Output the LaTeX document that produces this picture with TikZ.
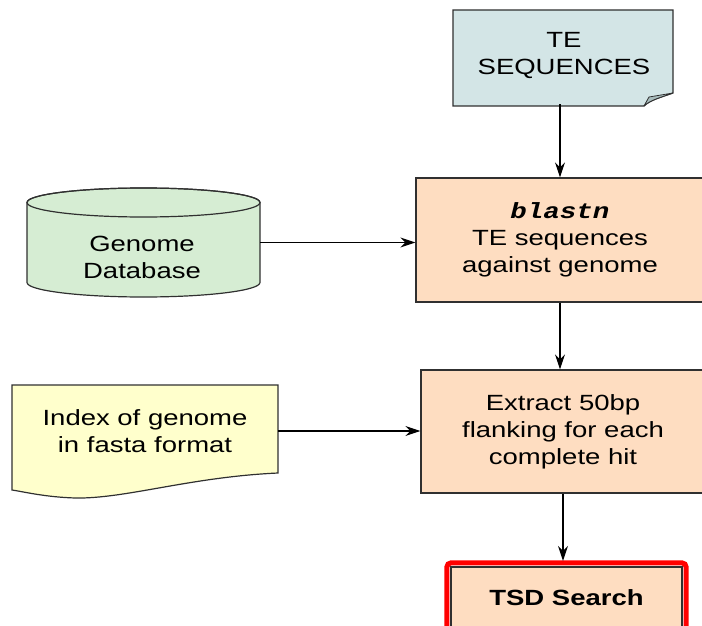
\documentclass[tikz,border=0pt]{standalone}
\usepackage{fontspec}
\setmainfont{Liberation Sans}[FakeStretch=1.25]
\newfontfamily\blastfont{Liberation Mono}[FakeStretch=1.25]
\usepackage{xcolor}
\usetikzlibrary{arrows.meta}

\definecolor{tefill}{HTML}{D3E5E6}
\definecolor{flapfill}{HTML}{A8BCBC}
\definecolor{procfill}{HTML}{FEDDC1}
\definecolor{dbfill}{HTML}{D6EDD3}
\definecolor{docfill}{HTML}{FFFFCC}
\definecolor{edgegray}{HTML}{303030}
\definecolor{tsdred}{HTML}{FF0000}

\tikzset{
  txt/.style={align=center, inner sep=0pt, font=\fontsize{22pt}{27pt}\selectfont},
  procbox/.style={txt, draw=edgegray, line width=1.2pt, fill=procfill},
  outline/.style={draw=edgegray, line width=1.2pt},
  flow/.style={-{Stealth[length=15pt,width=10pt]}, line width=1.2pt, black},
}

\begin{document}
\begin{tikzpicture}[x=1pt,y=-1pt]
\useasboundingbox (0,0) rectangle (702,626);

% TE sequences (document with folded corner)
\path[outline, fill=tefill] (453,10) -- (673,10) -- (673,93)
  .. controls (662,97) and (650,100) .. (644,106) -- (453,106) -- cycle;
\path[outline, fill=flapfill, line width=0.8pt] (644,106) -- (649,97) -- (673,93)
  .. controls (662,97) and (650,100) .. (644,106);
\node[txt, minimum width=220pt, minimum height=96pt] (te) at (564,56) {TE\\SEQUENCES};

% genome database cylinder
\path[outline, fill=dbfill] (27,202.5) -- (27,282.5)
  arc[start angle=180, end angle=360, x radius=116.5pt, y radius=14.5pt]
  -- (260,202.5)
  arc[start angle=0, end angle=180, x radius=116.5pt, y radius=14.5pt] -- cycle;
\draw[outline] (143.5,202.5) ellipse[x radius=116.5pt, y radius=14.5pt];
\node[minimum width=233pt, minimum height=109pt] (gdb) at (143.5,242.5) {};
\node[txt] (gdbtext) at (142,257) {Genome\\Database};

% index document
\path[outline, fill=docfill] (12,385) -- (278,385) -- (278,473)
  .. controls (190,477) and (125,499) .. (75,498)
  .. controls (45,497) and (25,492) .. (12,490) -- cycle;
\node[txt, minimum width=266pt, minimum height=92pt] (idx) at (145,431) {Index of genome\\in fasta format};

% process boxes
\node[procbox, minimum width=288pt, minimum height=124pt] (blastn) at (560,240)
  {{\blastfont\bfseries\itshape blastn}\\TE sequences\\against genome};
\node[procbox, minimum width=284pt, minimum height=123pt] (extract) at (563,431.5)
  {Extract 50bp\\flanking for each\\complete hit};
\node[procbox, minimum width=231pt, minimum height=62pt, font=\fontsize{22pt}{27pt}\selectfont\bfseries] (tsd) at (566.5,598) {TSD Search};
\draw[tsdred, line width=5pt, rounded corners=4pt]
  ([shift={(-3.5,-3.5)}]tsd.north west) rectangle ([shift={(3.5,3.5)}]tsd.south east);

% connectors
\draw[flow] (blastn.north |- te.south) -- (blastn.north);
\draw[flow] (gdb.east) -- (gdb.east -| blastn.west);
\draw[flow] (blastn.south) -- (blastn.south |- extract.north);
\draw[flow] (idx.east) -- (idx.east -| extract.west);
\draw[flow, shorten >=5.5pt] (extract.south) -- (extract.south |- tsd.north);
\end{tikzpicture}
\end{document}
